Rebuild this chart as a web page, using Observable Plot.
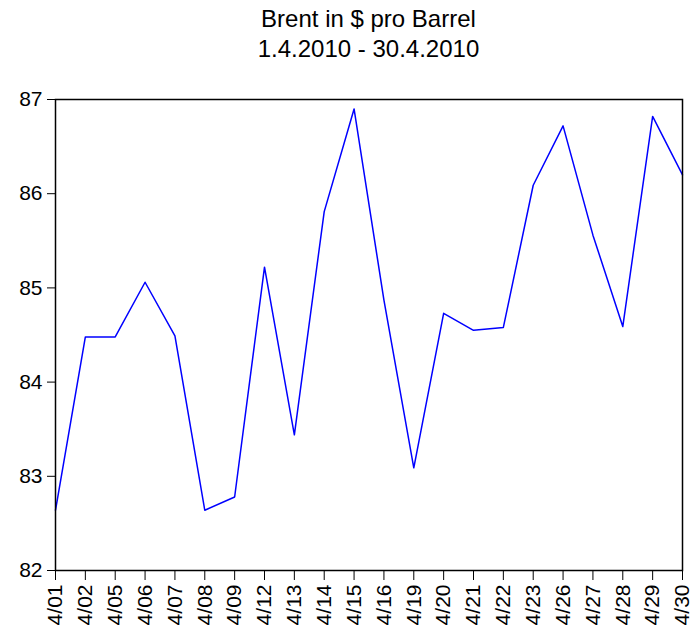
<!DOCTYPE html>
<html><head><meta charset="utf-8">
<script src="https://cdn.jsdelivr.net/npm/d3@7"></script>
<script src="https://cdn.jsdelivr.net/npm/@observablehq/plot@0.6"></script>
<style>
body{margin:0;background:#fff;font-family:"Liberation Sans",Arial,sans-serif;}
#title{position:relative;width:692px;height:70px;}
#title div{position:absolute;left:0;width:737px;text-align:center;font-size:24px;line-height:28px;color:#000;}
</style></head>
<body>
<div id="title"><div style="top:5px">Brent in $ pro Barrel</div><div style="top:35px">1.4.2010 - 30.4.2010</div></div>
<div id="chart"></div>
<script>
const dates = ["4/01","4/02","4/05","4/06","4/07","4/08","4/09","4/12","4/13","4/14","4/15","4/16","4/19","4/20","4/21","4/22","4/23","4/26","4/27","4/28","4/29","4/30"];
const prices = [82.64,84.48,84.48,85.06,84.49,82.64,82.78,85.22,83.44,85.81,86.90,84.87,83.09,84.73,84.55,84.58,86.09,86.72,85.56,84.59,86.82,86.20];
const yTicks = [82,83,84,85,86,87];
const data = dates.map((d,i)=>({idx:i, date:d, price:prices[i]}));
const chart = Plot.plot({
  width: 692, height: 562,
  marginLeft: 55, marginRight: 10, marginTop: 29, marginBottom: 62,
  style: {fontFamily: '"Liberation Sans", Arial, sans-serif', fontSize: "20px", color: "#000", background: "#fff"},
  x: {type: "linear", domain: [0, dates.length - 1]},
  y: {domain: [82, 87]},
  marks: [
    Plot.axisY({ticks: yTicks, tickSize: 8, tickPadding: 5, label: null, fontSize: 21, tickFormat: d=>String(d)}),
    Plot.axisX({ticks: dates.map((d,i)=>i), tickFormat: i=>dates[i], tickSize: 10, tickRotate: -90, tickPadding: 4, label: null, fontSize: 21}),
    Plot.line(data, {x: "idx", y: "price", stroke: "#0000ff", strokeWidth: 1.5}),
    Plot.frame({stroke: "#000", strokeWidth: 1.5})
  ]
});
document.getElementById("chart").appendChild(chart);
</script>
</body></html>
